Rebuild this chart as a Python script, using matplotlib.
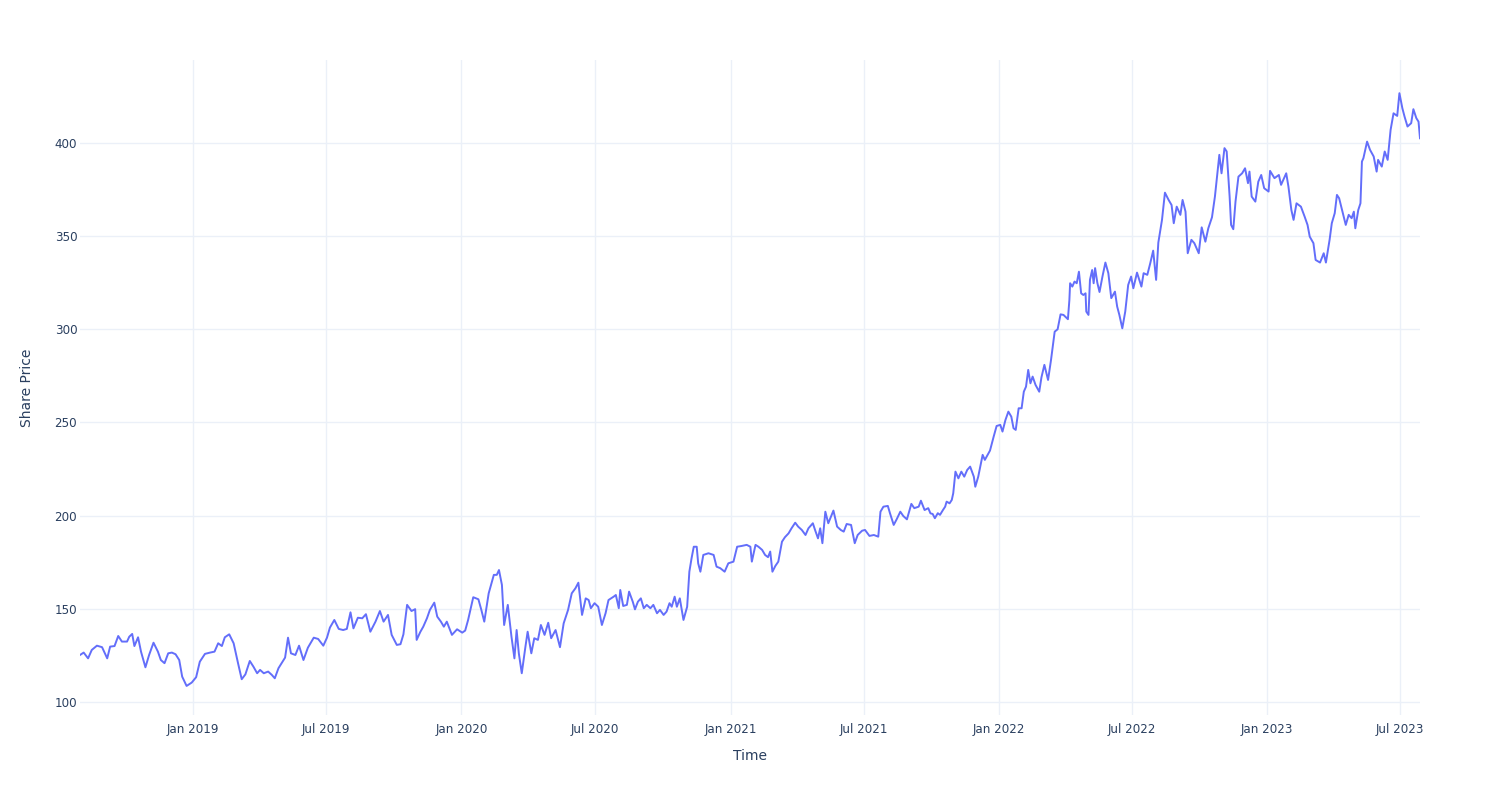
import matplotlib
matplotlib.use("Agg")
import matplotlib.pyplot as plt
import matplotlib.dates as mdates
import pandas as pd

dates = [
    "2018-07-31", "2018-08-05", "2018-08-11", "2018-08-16", "2018-08-23", "2018-08-30",
    "2018-09-06", "2018-09-10", "2018-09-16", "2018-09-21", "2018-09-26", "2018-10-03",
    "2018-10-06", "2018-10-10", "2018-10-13", "2018-10-18", "2018-10-22", "2018-10-28",
    "2018-11-02", "2018-11-08", "2018-11-14", "2018-11-18", "2018-11-23", "2018-11-28",
    "2018-12-03", "2018-12-08", "2018-12-13", "2018-12-17", "2018-12-23", "2018-12-30",
    "2019-01-05", "2019-01-10", "2019-01-17", "2019-01-24", "2019-01-30", "2019-02-04",
    "2019-02-09", "2019-02-13", "2019-02-19", "2019-02-25", "2019-03-03", "2019-03-08",
    "2019-03-13", "2019-03-19", "2019-03-24", "2019-03-29", "2019-04-02", "2019-04-07",
    "2019-04-13", "2019-04-18", "2019-04-22", "2019-04-27", "2019-05-02", "2019-05-06",
    "2019-05-10", "2019-05-14", "2019-05-20", "2019-05-25", "2019-05-31", "2019-06-06",
    "2019-06-14", "2019-06-20", "2019-06-27", "2019-07-02", "2019-07-06", "2019-07-12",
    "2019-07-18", "2019-07-24", "2019-07-29", "2019-08-03", "2019-08-07", "2019-08-13",
    "2019-08-19", "2019-08-24", "2019-08-30", "2019-09-06", "2019-09-12", "2019-09-17",
    "2019-09-23", "2019-09-28", "2019-10-05", "2019-10-10", "2019-10-14", "2019-10-19",
    "2019-10-25", "2019-10-30", "2019-11-01", "2019-11-06", "2019-11-10", "2019-11-15",
    "2019-11-19", "2019-11-25", "2019-11-29", "2019-12-04", "2019-12-08", "2019-12-12",
    "2019-12-19", "2019-12-26", "2020-01-02", "2020-01-06", "2020-01-10", "2020-01-17",
    "2020-01-24", "2020-01-28", "2020-02-01", "2020-02-07", "2020-02-14", "2020-02-18",
    "2020-02-21", "2020-02-25", "2020-02-28", "2020-03-04", "2020-03-09", "2020-03-13",
    "2020-03-16", "2020-03-19", "2020-03-23", "2020-03-28", "2020-03-31", "2020-04-05",
    "2020-04-09", "2020-04-14", "2020-04-18", "2020-04-23", "2020-04-28", "2020-05-02",
    "2020-05-08", "2020-05-14", "2020-05-19", "2020-05-25", "2020-05-30", "2020-06-04",
    "2020-06-08", "2020-06-13", "2020-06-18", "2020-06-22", "2020-06-25", "2020-06-30",
    "2020-07-05", "2020-07-10", "2020-07-15", "2020-07-19", "2020-07-26", "2020-07-29",
    "2020-08-02", "2020-08-04", "2020-08-08", "2020-08-13", "2020-08-16", "2020-08-21",
    "2020-08-24", "2020-08-28", "2020-09-01", "2020-09-05", "2020-09-09", "2020-09-14",
    "2020-09-18", "2020-09-23", "2020-09-27", "2020-10-02", "2020-10-06", "2020-10-10",
    "2020-10-13", "2020-10-17", "2020-10-20", "2020-10-24", "2020-10-29", "2020-11-03",
    "2020-11-06", "2020-11-09", "2020-11-12", "2020-11-16", "2020-11-18", "2020-11-21",
    "2020-11-25", "2020-12-02", "2020-12-09", "2020-12-13", "2020-12-18", "2020-12-24",
    "2020-12-29", "2021-01-05", "2021-01-10", "2021-01-16", "2021-01-23", "2021-01-28",
    "2021-01-30", "2021-02-04", "2021-02-08", "2021-02-13", "2021-02-17", "2021-02-21",
    "2021-02-24", "2021-02-27", "2021-03-03", "2021-03-07", "2021-03-12", "2021-03-16",
    "2021-03-21", "2021-03-25", "2021-03-30", "2021-04-03", "2021-04-08", "2021-04-13",
    "2021-04-17", "2021-04-23", "2021-04-26", "2021-04-30", "2021-05-03", "2021-05-06",
    "2021-05-10", "2021-05-14", "2021-05-21", "2021-05-26", "2021-05-31", "2021-06-04",
    "2021-06-08", "2021-06-14", "2021-06-19", "2021-06-23", "2021-06-29", "2021-07-03",
    "2021-07-09", "2021-07-15", "2021-07-21", "2021-07-24", "2021-07-28", "2021-08-03",
    "2021-08-06", "2021-08-11", "2021-08-15", "2021-08-20", "2021-08-24", "2021-08-29",
    "2021-09-04", "2021-09-08", "2021-09-14", "2021-09-17", "2021-09-22", "2021-09-27",
    "2021-09-30", "2021-10-03", "2021-10-06", "2021-10-10", "2021-10-13", "2021-10-17",
    "2021-10-20", "2021-10-22", "2021-10-26", "2021-10-29", "2021-10-31", "2021-11-03",
    "2021-11-07", "2021-11-11", "2021-11-15", "2021-11-19", "2021-11-23", "2021-11-28",
    "2021-11-30", "2021-12-04", "2021-12-10", "2021-12-13", "2021-12-20", "2021-12-25",
    "2021-12-29", "2022-01-03", "2022-01-06", "2022-01-10", "2022-01-14", "2022-01-18",
    "2022-01-21", "2022-01-24", "2022-01-28", "2022-02-01", "2022-02-04", "2022-02-07",
    "2022-02-10", "2022-02-13", "2022-02-16", "2022-02-20", "2022-02-25", "2022-02-28",
    "2022-03-04", "2022-03-09", "2022-03-13", "2022-03-18", "2022-03-22", "2022-03-26",
    "2022-03-30", "2022-04-05", "2022-04-07", "2022-04-08", "2022-04-11", "2022-04-14",
    "2022-04-17", "2022-04-20", "2022-04-23", "2022-04-26", "2022-04-29", "2022-04-30",
    "2022-05-03", "2022-05-05", "2022-05-08", "2022-05-10", "2022-05-12", "2022-05-15",
    "2022-05-18", "2022-05-22", "2022-05-26", "2022-05-30", "2022-06-03", "2022-06-08",
    "2022-06-11", "2022-06-14", "2022-06-18", "2022-06-22", "2022-06-26", "2022-06-30",
    "2022-07-03", "2022-07-08", "2022-07-14", "2022-07-17", "2022-07-22", "2022-07-26",
    "2022-07-30", "2022-08-03", "2022-08-06", "2022-08-11", "2022-08-15", "2022-08-20",
    "2022-08-24", "2022-08-27", "2022-08-31", "2022-09-05", "2022-09-08", "2022-09-12",
    "2022-09-15", "2022-09-20", "2022-09-24", "2022-09-30", "2022-10-04", "2022-10-09",
    "2022-10-13", "2022-10-18", "2022-10-22", "2022-10-28", "2022-10-31", "2022-11-04",
    "2022-11-07", "2022-11-11", "2022-11-13", "2022-11-16", "2022-11-19", "2022-11-23",
    "2022-11-28", "2022-12-02", "2022-12-06", "2022-12-08", "2022-12-11", "2022-12-16",
    "2022-12-20", "2022-12-24", "2022-12-28", "2023-01-03", "2023-01-05", "2023-01-11",
    "2023-01-17", "2023-01-20", "2023-01-23", "2023-01-27", "2023-01-30", "2023-02-03",
    "2023-02-06", "2023-02-10", "2023-02-16", "2023-02-21", "2023-02-25", "2023-02-28",
    "2023-03-05", "2023-03-08", "2023-03-14", "2023-03-19", "2023-03-22", "2023-03-27",
    "2023-03-30", "2023-04-03", "2023-04-06", "2023-04-09", "2023-04-14", "2023-04-18",
    "2023-04-22", "2023-04-26", "2023-04-29", "2023-05-01", "2023-05-05", "2023-05-08",
    "2023-05-10", "2023-05-12", "2023-05-17", "2023-05-21", "2023-05-26", "2023-05-30",
    "2023-06-01", "2023-06-06", "2023-06-10", "2023-06-14", "2023-06-18", "2023-06-22",
    "2023-06-27", "2023-06-30", "2023-07-04", "2023-07-07", "2023-07-11", "2023-07-16",
    "2023-07-19", "2023-07-23", "2023-07-26", "2023-07-28",
]

prices = [
    125.2, 126.5, 123.4, 127.9, 130.2, 129.4,
    123.4, 129.7, 130.0, 135.4, 132.4, 132.4,
    135.0, 136.5, 130.0, 134.7, 127.0, 118.6,
    125.2, 131.8, 127.0, 122.5, 120.8, 126.1,
    126.5, 125.6, 122.5, 113.6, 108.6, 110.4,
    113.3, 121.6, 125.8, 126.5, 127.0, 131.5,
    130.0, 134.7, 136.3, 131.5, 120.8, 112.2,
    114.8, 122.0, 118.9, 115.4, 117.2, 115.4,
    116.3, 114.5, 112.7, 118.1, 121.3, 123.8,
    134.5, 126.1, 125.2, 130.2, 122.5, 129.1,
    134.5, 133.8, 130.2, 134.5, 139.9, 144.0,
    139.2, 138.6, 139.2, 148.1, 139.5, 145.2,
    144.9, 147.1, 137.7, 143.1, 148.8, 143.1,
    146.7, 136.0, 130.6, 131.0, 136.3, 152.1,
    148.8, 149.8, 133.3, 137.6, 140.4, 144.9,
    149.4, 153.3, 145.8, 143.1, 140.4, 143.1,
    136.0, 139.0, 137.2, 138.3, 144.0, 156.2,
    155.1, 149.4, 143.1, 158.3, 168.2, 168.2,
    170.8, 162.8, 141.3, 152.1, 135.0, 123.4,
    138.6, 126.1, 115.4, 129.7, 137.7, 126.1,
    134.2, 133.3, 141.3, 136.0, 142.5, 134.2,
    138.6, 129.4, 142.2, 149.4, 158.3, 161.0,
    164.0, 146.7, 155.6, 154.7, 150.3, 153.0,
    151.1, 141.3, 147.6, 154.7, 156.5, 157.4,
    150.3, 160.1, 151.5, 152.1, 159.2, 153.8,
    149.7, 153.8, 155.6, 150.3, 152.1, 150.3,
    152.1, 147.6, 149.4, 146.7, 148.5, 153.0,
    151.1, 156.5, 151.1, 155.6, 144.0, 151.1,
    169.9, 177.1, 183.3, 183.3, 174.4, 169.9,
    178.9, 179.8, 178.9, 172.6, 171.8, 169.9,
    174.4, 175.3, 183.3, 183.7, 184.3, 183.3,
    175.3, 184.3, 183.3, 181.6, 178.9, 177.7,
    180.7, 169.9, 173.0, 175.3, 186.0, 188.4,
    190.5, 193.2, 196.2, 194.1, 192.3, 189.6,
    193.2, 195.9, 192.3, 187.8, 193.2, 185.2,
    202.1, 195.9, 202.7, 194.1, 192.3, 191.4,
    195.5, 195.0, 185.2, 189.6, 191.9, 192.3,
    189.1, 189.6, 188.7, 202.1, 204.8, 205.2,
    201.2, 195.0, 198.0, 202.1, 199.8, 198.0,
    206.3, 204.0, 204.8, 208.0, 203.0, 204.0,
    201.2, 200.9, 198.6, 201.3, 200.4, 203.0,
    204.8, 207.5, 206.6, 208.4, 212.0, 223.6,
    220.0, 223.6, 220.9, 224.5, 226.3, 220.9,
    215.5, 220.9, 232.6, 229.9, 234.9, 242.4,
    248.1, 248.7, 245.1, 251.3, 255.8, 253.1,
    246.9, 246.0, 257.6, 257.6, 266.5, 269.2,
    278.2, 271.0, 274.6, 270.1, 266.5, 274.2,
    280.9, 272.8, 283.5, 298.7, 300.0, 308.0,
    307.7, 305.4, 315.7, 324.7, 322.9, 325.6,
    324.7, 330.9, 319.3, 318.4, 319.3, 309.5,
    307.7, 326.5, 331.8, 324.7, 332.8, 325.0,
    320.0, 328.3, 335.8, 330.1, 316.7, 320.2,
    312.2, 307.7, 300.5, 309.5, 323.8, 328.3,
    322.0, 330.4, 322.9, 330.1, 329.2, 335.4,
    342.2, 326.5, 346.5, 358.7, 373.3, 369.4,
    366.7, 356.9, 365.8, 361.4, 369.4, 363.1,
    340.8, 348.0, 346.2, 340.8, 354.7, 347.0,
    354.2, 360.1, 371.2, 393.6, 383.7, 397.2,
    395.4, 371.2, 356.0, 353.7, 368.5, 381.9,
    383.7, 386.4, 378.4, 384.6, 371.2, 368.5,
    379.2, 382.8, 375.7, 373.9, 385.0, 381.1,
    382.8, 377.5, 380.2, 383.7, 376.6, 364.0,
    358.7, 367.6, 365.8, 360.5, 356.0, 349.7,
    346.2, 337.2, 335.8, 340.8, 335.8, 348.0,
    356.9, 362.3, 372.1, 370.3, 362.3, 356.0,
    361.4, 359.6, 363.1, 354.2, 364.0, 367.6,
    390.0, 391.8, 400.7, 396.3, 392.7, 384.6,
    390.9, 387.3, 395.4, 390.9, 407.0, 415.9,
    414.5, 426.7, 418.6, 414.1, 408.8, 410.6,
    418.1, 413.3, 411.4, 402.5,
]

tick_dates = ["2019-01-01", "2019-07-01", "2020-01-01", "2020-07-01", "2021-01-01",
              "2021-07-01", "2022-01-01", "2022-07-01", "2023-01-01", "2023-07-01"]
y_ticks = [100, 150, 200, 250, 300, 350, 400]

x = pd.to_datetime(dates)

plt.rcParams['font.family'] = ['DejaVu Sans']
text_color = '#2a3f5f'
grid_color = '#EBF0F8'

fig = plt.figure(figsize=(15, 8), dpi=100)
ax = fig.add_axes([80 / 1500, 85 / 800, 1340 / 1500, 655 / 800])

ax.plot(x, prices, color='#636efa', linewidth=1.4)

ax.set_xlim(x[0], x[-1])
ax.set_ylim(93, 444.5)
ax.set_xticks(pd.to_datetime(tick_dates))
ax.xaxis.set_major_formatter(mdates.DateFormatter('%b %Y'))
ax.set_yticks(y_ticks)

ax.grid(True, color=grid_color, linewidth=1)
ax.set_axisbelow(True)
for s in ax.spines.values():
    s.set_visible(False)

ax.tick_params(axis='both', length=0, labelsize=8.6, labelcolor=text_color)
ax.tick_params(axis='x', pad=6)
ax.tick_params(axis='y', pad=2)

ax.set_xlabel("Time", fontsize=10, color=text_color)
ax.set_ylabel("Share Price", fontsize=10, color=text_color)
ax.xaxis.set_label_coords(0.5, -0.052)
ax.yaxis.set_label_coords(-0.034, 0.5)

fig.savefig("out.png", dpi=100, facecolor='white')
